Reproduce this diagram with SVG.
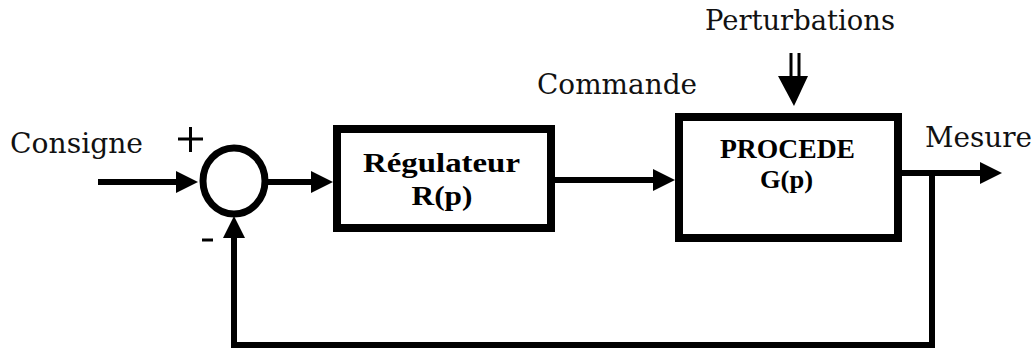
<svg xmlns="http://www.w3.org/2000/svg" width="1036" height="348" viewBox="0 0 1036 348">
  <style>
    .lbl { font-family: "DejaVu Serif", "Liberation Serif", serif; font-size: 28px; fill: #111; }
    .blk { font-family: "Liberation Serif", "Times New Roman", serif; font-weight: bold; fill: #000; text-anchor: middle; }
    .box { fill: #fff; stroke: #000; stroke-width: 8; }
    .wire { fill: none; stroke: #000; stroke-width: 6; }
    .sign { fill: none; stroke: #000; stroke-width: 3; }
  </style>
  <defs>
    <marker id="head" markerUnits="userSpaceOnUse" markerWidth="24" markerHeight="24" refX="12" refY="11" orient="auto" viewBox="0 0 24 22">
      <path d="M0,0 L22,11 L0,22 z" fill="#000"/>
    </marker>
  </defs>

  <rect width="1036" height="348" fill="#fff"/>

  <!-- connectors -->
  <g id="connectors">
    <line class="wire" x1="98" y1="182" x2="188" y2="182" marker-end="url(#head)"/>
    <line class="wire" x1="267" y1="182" x2="323" y2="182" marker-end="url(#head)"/>
    <line class="wire" x1="555" y1="180" x2="665" y2="180" marker-end="url(#head)"/>
    <line class="wire" x1="902" y1="173" x2="992" y2="173" marker-end="url(#head)"/>
    <!-- feedback path -->
    <polyline class="wire" stroke-width="5" points="932,173 932,345 234,345 234,226" marker-end="url(#head)"/>
    <!-- disturbance input: double-shaft arrow -->
    <g id="disturbance-arrow">
      <line x1="791" y1="53" x2="791" y2="80" stroke="#000" stroke-width="3"/>
      <line x1="799" y1="53" x2="799" y2="80" stroke="#000" stroke-width="3"/>
      <polygon points="778,76 808,76 794,106" fill="#000"/>
    </g>
  </g>

  <!-- summing junction -->
  <g id="sum">
    <ellipse cx="234" cy="181" rx="31" ry="33" fill="#fff" stroke="#000" stroke-width="7"/>
    <path class="sign" d="M178,139 H203 M190.5,127 V152"/>
    <path class="sign" d="M202,240 H213"/>
  </g>

  <!-- controller block -->
  <g id="regulateur">
    <rect class="box" x="337" y="129" width="214" height="99"/>
    <text class="blk" x="441.5" y="172" font-size="28" textLength="157" lengthAdjust="spacingAndGlyphs">Régulateur</text>
    <text class="blk" x="442" y="205" font-size="27" textLength="61" lengthAdjust="spacingAndGlyphs">R(p)</text>
  </g>

  <!-- plant block -->
  <g id="procede">
    <rect class="box" x="679" y="117" width="219" height="121"/>
    <text class="blk" x="787.5" y="158" font-size="27" textLength="135" lengthAdjust="spacingAndGlyphs">PROCEDE</text>
    <text class="blk" x="786.5" y="188" font-size="26" textLength="53" lengthAdjust="spacingAndGlyphs">G(p)</text>
  </g>

  <!-- signal labels -->
  <g id="labels">
    <text class="lbl" x="10" y="153" textLength="133" lengthAdjust="spacingAndGlyphs">Consigne</text>
    <text class="lbl" x="537" y="94" textLength="160" lengthAdjust="spacingAndGlyphs">Commande</text>
    <text class="lbl" x="705" y="30" textLength="190" lengthAdjust="spacingAndGlyphs">Perturbations</text>
    <text class="lbl" x="925" y="147" textLength="107" lengthAdjust="spacingAndGlyphs">Mesure</text>
  </g>
</svg>
